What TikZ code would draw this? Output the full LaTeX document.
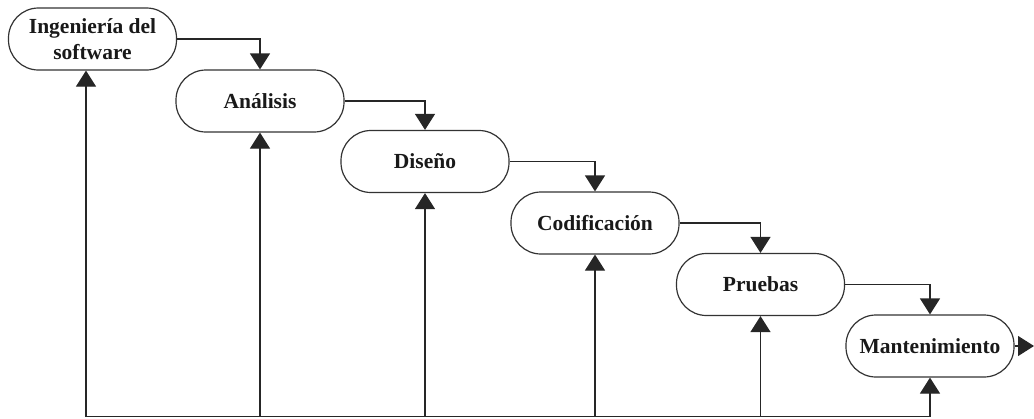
\documentclass[tikz,border=0pt]{standalone}
\usepackage{fontspec}
\setmainfont{Liberation Serif}
\usetikzlibrary{arrows.meta}
\begin{document}
\begin{tikzpicture}[x=1pt,y=-1pt,
  stage/.style={draw=black!80, line width=1.2pt, rounded corners=30pt,
    minimum width=168pt, minimum height=62pt, inner sep=0pt, align=center,
    font=\fontsize{21.5}{26}\selectfont\bfseries, text=black!90},
  flow/.style={draw=black!85, line width=1.2pt,
    -{Triangle[length=16pt,width=20pt]}}]
\useasboundingbox (0,0) rectangle (1034,418);

% phases of the waterfall model
\node[stage] (ing) at (92.5,39)   {Ingeniería del\\software};
\node[stage] (ana) at (260,101)   {Análisis};
\node[stage] (dis) at (425,161.5) {Diseño};
\node[stage] (cod) at (595,223)   {Codificación};
\node[stage] (pru) at (760.5,284.5) {Pruebas};
\node[stage] (man) at (930,346)   {Mantenimiento};

% forward flow between phases
\draw[flow] (ing.east) -| (ana.north);
\draw[flow] (ana.east) -| (dis.north);
\draw[flow] (dis.east) -| (cod.north);
\draw[flow] (cod.east) -| (pru.north);
\draw[flow] (pru.east) -| (man.north);
\coordinate (out) at (1034,346);
\draw[flow] (man.east) -- (out);

% feedback bus along the bottom
\coordinate (busL) at (86,416.5);
\coordinate (busR) at (930,416.5);
\draw[draw=black!85, line width=1.2pt] (busL) -- (busR);
\draw[flow] (busL) -- (busL |- ing.south);
\draw[flow] (ana.south |- busL) -- (ana.south);
\draw[flow] (dis.south |- busL) -- (dis.south);
\draw[flow] (cod.south |- busL) -- (cod.south);
\draw[flow] (pru.south |- busL) -- (pru.south);
\draw[flow] (man.south |- busL) -- (man.south);
\end{tikzpicture}
\end{document}
